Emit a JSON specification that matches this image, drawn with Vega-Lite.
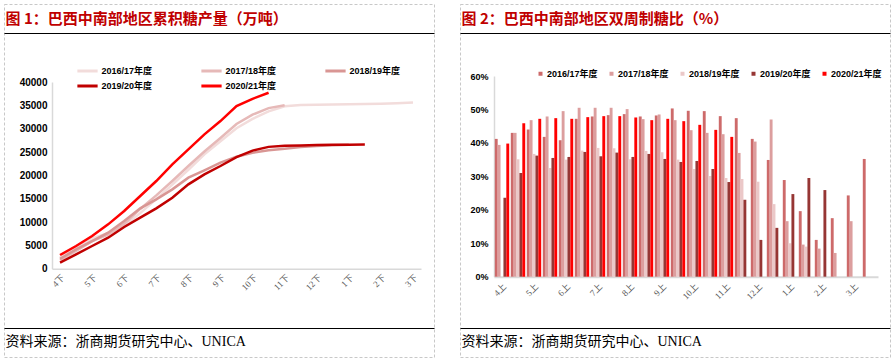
{
  "$schema": "https://vega.github.io/schema/vega-lite/v6.json",
  "padding": {"left": 3, "top": 3, "right": 0, "bottom": 0},
  "spacing": 24,
  "background": "#ffffff",
  "config": {
    "font": "Liberation Sans",
    "view": {"stroke": "#C8C8C8", "strokeDash": [3, 2], "strokeWidth": 1},
    "axis": {"ticks": false, "grid": false, "labelOverlap": false}
  },
  "resolve": {"scale": {"x": "independent", "y": "independent", "color": "independent"}, "legend": {"color": "independent"}},
  "datasets": {
    "cum": [
      {"period":"4下","season":"2016/17年度","output":2360},{"period":"5上","season":"2016/17年度","output":4300},{"period":"5下","season":"2016/17年度","output":6500},{"period":"6上","season":"2016/17年度","output":7600},{"period":"6下","season":"2016/17年度","output":9200},{"period":"7上","season":"2016/17年度","output":11900},{"period":"7下","season":"2016/17年度","output":14900},{"period":"8上","season":"2016/17年度","output":18000},{"period":"8下","season":"2016/17年度","output":21200},{"period":"9上","season":"2016/17年度","output":24500},{"period":"9下","season":"2016/17年度","output":27300},{"period":"10上","season":"2016/17年度","output":30100},{"period":"10下","season":"2016/17年度","output":32100},{"period":"11上","season":"2016/17年度","output":33700},{"period":"11下","season":"2016/17年度","output":34800},{"period":"12上","season":"2016/17年度","output":35050},{"period":"12下","season":"2016/17年度","output":35150},{"period":"1上","season":"2016/17年度","output":35200},{"period":"1下","season":"2016/17年度","output":35250},{"period":"2上","season":"2016/17年度","output":35300},{"period":"2下","season":"2016/17年度","output":35350},{"period":"3上","season":"2016/17年度","output":35450},{"period":"3下","season":"2016/17年度","output":35600},
      {"period":"4下","season":"2017/18年度","output":1860},{"period":"5上","season":"2017/18年度","output":3800},{"period":"5下","season":"2017/18年度","output":5900},{"period":"6上","season":"2017/18年度","output":7300},{"period":"6下","season":"2017/18年度","output":9600},{"period":"7上","season":"2017/18年度","output":12800},{"period":"7下","season":"2017/18年度","output":15700},{"period":"8上","season":"2017/18年度","output":18800},{"period":"8下","season":"2017/18年度","output":22000},{"period":"9上","season":"2017/18年度","output":25100},{"period":"9下","season":"2017/18年度","output":28000},{"period":"10上","season":"2017/18年度","output":31000},{"period":"10下","season":"2017/18年度","output":33000},{"period":"11上","season":"2017/18年度","output":34400},{"period":"11下","season":"2017/18年度","output":35000},
      {"period":"4下","season":"2018/19年度","output":2100},{"period":"5上","season":"2018/19年度","output":4140},{"period":"5下","season":"2018/19年度","output":5930},{"period":"6上","season":"2018/19年度","output":7710},{"period":"6下","season":"2018/19年度","output":10220},{"period":"7上","season":"2018/19年度","output":12930},{"period":"7下","season":"2018/19年度","output":14860},{"period":"8上","season":"2018/19年度","output":17000},{"period":"8下","season":"2018/19年度","output":19500},{"period":"9上","season":"2018/19年度","output":21070},{"period":"9下","season":"2018/19年度","output":22710},{"period":"10上","season":"2018/19年度","output":24000},{"period":"10下","season":"2018/19年度","output":24860},{"period":"11上","season":"2018/19年度","output":25360},{"period":"11下","season":"2018/19年度","output":25710},{"period":"12上","season":"2018/19年度","output":26070},{"period":"12下","season":"2018/19年度","output":26280},{"period":"1上","season":"2018/19年度","output":26430},{"period":"1下","season":"2018/19年度","output":26570},
      {"period":"4下","season":"2019/20年度","output":1290},{"period":"5上","season":"2019/20年度","output":3070},{"period":"5下","season":"2019/20年度","output":4860},{"period":"6上","season":"2019/20年度","output":6640},{"period":"6下","season":"2019/20年度","output":8930},{"period":"7上","season":"2019/20年度","output":10930},{"period":"7下","season":"2019/20年度","output":12930},{"period":"8上","season":"2019/20年度","output":15210},{"period":"8下","season":"2019/20年度","output":18070},{"period":"9上","season":"2019/20年度","output":20220},{"period":"9下","season":"2019/20年度","output":22000},{"period":"10上","season":"2019/20年度","output":23900},{"period":"10下","season":"2019/20年度","output":25300},{"period":"11上","season":"2019/20年度","output":26100},{"period":"11下","season":"2019/20年度","output":26350},{"period":"12上","season":"2019/20年度","output":26420},{"period":"12下","season":"2019/20年度","output":26480},{"period":"1上","season":"2019/20年度","output":26530},{"period":"1下","season":"2019/20年度","output":26580},{"period":"2上","season":"2019/20年度","output":26620},
      {"period":"4下","season":"2020/21年度","output":2930},{"period":"5上","season":"2020/21年度","output":4860},{"period":"5下","season":"2020/21年度","output":7000},{"period":"6上","season":"2020/21年度","output":9500},{"period":"6下","season":"2020/21年度","output":12360},{"period":"7上","season":"2020/21年度","output":15570},{"period":"7下","season":"2020/21年度","output":18790},{"period":"8上","season":"2020/21年度","output":22360},{"period":"8下","season":"2020/21年度","output":25570},{"period":"9上","season":"2020/21年度","output":28780},{"period":"9下","season":"2020/21年度","output":31630},{"period":"10上","season":"2020/21年度","output":34860},{"period":"10下","season":"2020/21年度","output":36400},{"period":"11上","season":"2020/21年度","output":37700}
    ],
    "ratio": [
      {"period":"4上","season":"2016/17年度","ratio":41.2},{"period":"4上","season":"2017/18年度","ratio":39.4},{"period":"4上","season":"2019/20年度","ratio":23.6},{"period":"4上","season":"2020/21年度","ratio":39.8},
      {"period":"4下","season":"2016/17年度","ratio":43},{"period":"4下","season":"2017/18年度","ratio":43},{"period":"4下","season":"2018/19年度","ratio":35.1},{"period":"4下","season":"2019/20年度","ratio":31},{"period":"4下","season":"2020/21年度","ratio":45.9},
      {"period":"5上","season":"2016/17年度","ratio":44},{"period":"5上","season":"2017/18年度","ratio":46.8},{"period":"5上","season":"2018/19年度","ratio":36.7},{"period":"5上","season":"2019/20年度","ratio":36.2},{"period":"5上","season":"2020/21年度","ratio":47.2},
      {"period":"5下","season":"2016/17年度","ratio":41.8},{"period":"5下","season":"2017/18年度","ratio":47.9},{"period":"5下","season":"2018/19年度","ratio":32.5},{"period":"5下","season":"2019/20年度","ratio":35.5},{"period":"5下","season":"2020/21年度","ratio":47.4},
      {"period":"6上","season":"2016/17年度","ratio":40.8},{"period":"6上","season":"2017/18年度","ratio":49.5},{"period":"6上","season":"2018/19年度","ratio":35},{"period":"6上","season":"2019/20年度","ratio":35.8},{"period":"6上","season":"2020/21年度","ratio":47.2},
      {"period":"6下","season":"2016/17年度","ratio":47.2},{"period":"6下","season":"2017/18年度","ratio":50.5},{"period":"6下","season":"2018/19年度","ratio":37.7},{"period":"6下","season":"2019/20年度","ratio":37.3},{"period":"6下","season":"2020/21年度","ratio":47.7},
      {"period":"7上","season":"2016/17年度","ratio":47.9},{"period":"7上","season":"2017/18年度","ratio":50.5},{"period":"7上","season":"2018/19年度","ratio":38.5},{"period":"7上","season":"2019/20年度","ratio":36},{"period":"7上","season":"2020/21年度","ratio":48},
      {"period":"7下","season":"2016/17年度","ratio":48.3},{"period":"7下","season":"2017/18年度","ratio":50.5},{"period":"7下","season":"2018/19年度","ratio":38.4},{"period":"7下","season":"2019/20年度","ratio":37.1},{"period":"7下","season":"2020/21年度","ratio":48},
      {"period":"8上","season":"2016/17年度","ratio":48.6},{"period":"8上","season":"2017/18年度","ratio":50.1},{"period":"8上","season":"2018/19年度","ratio":35.1},{"period":"8上","season":"2019/20年度","ratio":35.8},{"period":"8上","season":"2020/21年度","ratio":47.6},
      {"period":"8下","season":"2016/17年度","ratio":47.9},{"period":"8下","season":"2017/18年度","ratio":47.1},{"period":"8下","season":"2018/19年度","ratio":37.6},{"period":"8下","season":"2019/20年度","ratio":36.7},{"period":"8下","season":"2020/21年度","ratio":46.8},
      {"period":"9上","season":"2016/17年度","ratio":48.2},{"period":"9上","season":"2017/18年度","ratio":48.5},{"period":"9上","season":"2018/19年度","ratio":37.2},{"period":"9上","season":"2019/20年度","ratio":35.2},{"period":"9上","season":"2020/21年度","ratio":47.2},
      {"period":"9下","season":"2016/17年度","ratio":50.3},{"period":"9下","season":"2017/18年度","ratio":46.8},{"period":"9下","season":"2018/19年度","ratio":35},{"period":"9下","season":"2019/20年度","ratio":34.3},{"period":"9下","season":"2020/21年度","ratio":46.5},
      {"period":"10上","season":"2016/17年度","ratio":49.6},{"period":"10上","season":"2017/18年度","ratio":43.8},{"period":"10上","season":"2018/19年度","ratio":32.2},{"period":"10上","season":"2019/20年度","ratio":34.6},{"period":"10上","season":"2020/21年度","ratio":45.4},
      {"period":"10下","season":"2016/17年度","ratio":49.5},{"period":"10下","season":"2017/18年度","ratio":43},{"period":"10下","season":"2018/19年度","ratio":30.1},{"period":"10下","season":"2019/20年度","ratio":32.2},{"period":"10下","season":"2020/21年度","ratio":43.9},
      {"period":"11上","season":"2016/17年度","ratio":48},{"period":"11上","season":"2017/18年度","ratio":42.6},{"period":"11上","season":"2018/19年度","ratio":29.5},{"period":"11上","season":"2019/20年度","ratio":28.3},{"period":"11上","season":"2020/21年度","ratio":41.8},
      {"period":"11下","season":"2016/17年度","ratio":47.4},{"period":"11下","season":"2017/18年度","ratio":37},{"period":"11下","season":"2018/19年度","ratio":29.2},{"period":"11下","season":"2019/20年度","ratio":23},
      {"period":"12上","season":"2016/17年度","ratio":41.2},{"period":"12上","season":"2017/18年度","ratio":40.4},{"period":"12上","season":"2018/19年度","ratio":28.4},{"period":"12上","season":"2019/20年度","ratio":11},
      {"period":"12下","season":"2016/17年度","ratio":34.9},{"period":"12下","season":"2017/18年度","ratio":47},{"period":"12下","season":"2018/19年度","ratio":21.7},{"period":"12下","season":"2019/20年度","ratio":14.6},
      {"period":"1上","season":"2016/17年度","ratio":28.9},{"period":"1上","season":"2017/18年度","ratio":16.6},{"period":"1上","season":"2018/19年度","ratio":10},{"period":"1上","season":"2019/20年度","ratio":24.7},
      {"period":"1下","season":"2016/17年度","ratio":19.6},{"period":"1下","season":"2017/18年度","ratio":9.6},{"period":"1下","season":"2018/19年度","ratio":9},{"period":"1下","season":"2019/20年度","ratio":29.5},
      {"period":"2上","season":"2016/17年度","ratio":11},{"period":"2上","season":"2017/18年度","ratio":8.4},{"period":"2上","season":"2019/20年度","ratio":25.9},
      {"period":"2下","season":"2016/17年度","ratio":17.5},{"period":"2下","season":"2017/18年度","ratio":7.1},
      {"period":"3上","season":"2016/17年度","ratio":24.3},{"period":"3上","season":"2017/18年度","ratio":16.6},
      {"period":"3下","season":"2016/17年度","ratio":35.2}
    ]
  },
  "hconcat": [
    {
      "width": 430,
      "height": 353,
      "resolve": {"scale": {"x": "independent"}, "axis": {"x": "independent"}},
      "layer": [
        {
          "data": {"name": "cum"},
          "mark": {"type": "rule", "opacity": 0},
          "encoding": {
            "x": {"field": "season", "type": "nominal", "axis": {"orient": "top", "offset": -29, "labels": false, "ticks": false, "domainColor": "#000000", "domainWidth": 1.2, "title": "图 1：巴西中南部地区累积糖产量（万吨）", "titleX": 1, "titleY": -15, "titleAlign": "left", "titleBaseline": "middle", "titleFont": "Noto Sans CJK SC", "titleFontSize": 15, "titleFontWeight": "bold", "titleColor": "#C00000"}}
          }
        },
        {
          "data": {"name": "cum"},
          "mark": {"type": "rule", "opacity": 0},
          "encoding": {
            "x": {"field": "season", "type": "nominal", "axis": {"orient": "bottom", "offset": -29, "labels": false, "ticks": false, "domainColor": "#000000", "domainWidth": 1.2, "title": "资料来源：浙商期货研究中心、UNICA", "titleX": 1, "titleY": 13, "titleAlign": "left", "titleBaseline": "middle", "titleFont": "Liberation Serif, Noto Sans CJK SC", "titleFontSize": 14, "titleFontWeight": "normal", "titleColor": "#000000"}}
          }
        },
        {
          "data": {"name": "cum"},
          "mark": {"type": "line", "strokeWidth": 2.5},
          "encoding": {
            "x": {"field": "period", "type": "ordinal",
              "sort": ["4下","5上","5下","6上","6下","7上","7下","8上","8下","9上","9下","10上","10下","11上","11下","12上","12下","1上","1下","2上","2下","3上","3下"],
              "scale": {"type": "point", "padding": 0.5, "range": [48, 417]},
              "axis": {"orient": "bottom", "offset": -88.3, "title": null, "labelAngle": -45, "labelExpr": "indexof(datum.label, '下') >= 0 ? datum.label : ''", "labelFont": "Liberation Serif, Noto Sans CJK SC", "labelFontSize": 9, "labelColor": "#595959", "domainColor": "#D9D9D9", "domainWidth": 1.5, "labelPadding": 4}},
            "y": {"field": "output", "type": "quantitative",
              "scale": {"domain": [0, 40000], "range": [264.7, 78]},
              "axis": {"offset": -48, "title": null, "values": [0,5000,10000,15000,20000,25000,30000,35000,40000], "format": "d", "labelFontSize": 10, "labelFontWeight": "bold", "labelColor": "#000000", "domainColor": "#D9D9D9", "domainWidth": 1.5, "labelPadding": 5}},
            "color": {"field": "season", "type": "nominal",
              "scale": {"domain": ["2016/17年度","2017/18年度","2018/19年度","2019/20年度","2020/21年度"], "range": ["#F2DCDB","#E6B9B8","#D99694","#C00000","#FF0000"]},
              "legend": {"orient": "none", "legendX": 74.5, "legendY": 58, "columns": 3, "direction": "horizontal", "title": null, "symbolType": "M-1.35,0H1.35", "symbolSize": 225, "symbolStrokeWidth": 3, "labelOffset": 5, "columnPadding": 42, "rowPadding": 0, "labelFontSize": 9, "labelFontWeight": "bold", "labelFont": "Liberation Sans, Noto Sans CJK SC", "labelColor": "#000000", "padding": 0, "gridAlign": "all"}}
          }
        }
      ]
    },
    {
      "width": 430,
      "height": 353,
      "resolve": {"scale": {"x": "independent"}, "axis": {"x": "independent"}},
      "layer": [
        {
          "data": {"name": "ratio"},
          "mark": {"type": "rule", "opacity": 0},
          "encoding": {
            "x": {"field": "season", "type": "nominal", "axis": {"orient": "top", "offset": -29, "labels": false, "ticks": false, "domainColor": "#000000", "domainWidth": 1.2, "title": "图 2：巴西中南部地区双周制糖比（%）", "titleX": 1, "titleY": -15, "titleAlign": "left", "titleBaseline": "middle", "titleFont": "Noto Sans CJK SC", "titleFontSize": 15, "titleFontWeight": "bold", "titleColor": "#C00000"}}
          }
        },
        {
          "data": {"name": "ratio"},
          "mark": {"type": "rule", "opacity": 0},
          "encoding": {
            "x": {"field": "season", "type": "nominal", "axis": {"orient": "bottom", "offset": -29, "labels": false, "ticks": false, "domainColor": "#000000", "domainWidth": 1.2, "title": "资料来源：浙商期货研究中心、UNICA", "titleX": 1, "titleY": 13, "titleAlign": "left", "titleBaseline": "middle", "titleFont": "Liberation Serif, Noto Sans CJK SC", "titleFontSize": 14, "titleFontWeight": "normal", "titleColor": "#000000"}}
          }
        },
        {
          "data": {"name": "ratio"},
          "mark": {"type": "bar"},
          "encoding": {
            "x": {"field": "period", "type": "ordinal",
              "sort": ["4上","4下","5上","5下","6上","6下","7上","7下","8上","8下","9上","9下","10上","10下","11上","11下","12上","12下","1上","1下","2上","2下","3上","3下"],
              "scale": {"type": "band", "paddingInner": 0.1, "paddingOuter": 0.05, "range": [34, 418]},
              "axis": {"orient": "bottom", "offset": -80.3, "title": null, "labelAngle": -45, "labelExpr": "indexof(datum.label, '上') >= 0 ? datum.label : ''", "labelFont": "Liberation Serif, Noto Sans CJK SC", "labelFontSize": 9, "labelColor": "#595959", "domainColor": "#D9D9D9", "domainWidth": 2, "labelPadding": 5}},
            "xOffset": {"field": "season", "type": "nominal", "sort": ["2016/17年度","2017/18年度","2018/19年度","2019/20年度","2020/21年度"], "scale": {"paddingInner": 0, "paddingOuter": 0}},
            "y": {"field": "ratio", "type": "quantitative",
              "scale": {"domain": [0, 60], "range": [272.7, 72]},
              "axis": {"offset": -34, "title": null, "values": [0,10,20,30,40,50,60], "labelExpr": "datum.value + '%'", "labelFontSize": 9, "labelFontWeight": "bold", "labelColor": "#000000", "domainColor": "#D9D9D9", "domainWidth": 1.5, "labelPadding": 6}},
            "color": {"field": "season", "type": "nominal",
              "scale": {"domain": ["2016/17年度","2017/18年度","2018/19年度","2019/20年度","2020/21年度"], "range": ["#CD6A6A","#DC9E9E","#EBC8C8","#963634","#FF0000"]},
              "legend": {"orient": "none", "legendX": 76, "legendY": 65, "columns": 5, "direction": "horizontal", "title": null, "symbolType": "square", "symbolSize": 16, "labelOffset": 2, "columnPadding": 9, "labelFontSize": 9, "labelFontWeight": "bold", "labelFont": "Liberation Sans, Noto Sans CJK SC", "labelColor": "#000000", "padding": 0, "gridAlign": "all"}}
          }
        }
      ]
    }
  ]
}
